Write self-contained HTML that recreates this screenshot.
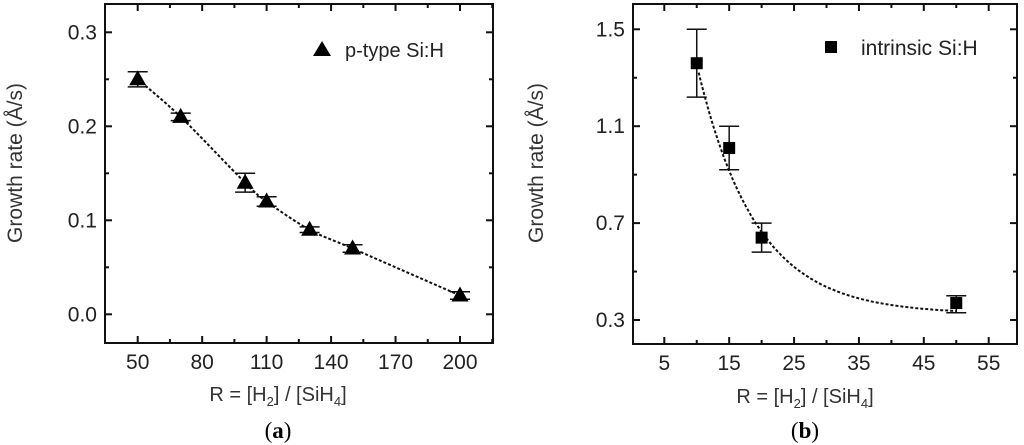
<!DOCTYPE html>
<html><head><meta charset="utf-8"><style>
html,body{margin:0;padding:0;background:#fff;}
svg{display:block;}
text{font-family:"Liberation Sans",sans-serif;fill:#222;}
</style></head><body>
<svg id="fig" width="1024" height="445" viewBox="0 0 1024 445"></svg>
<script>
// Panel (a) data
const aX = [50, 70, 100, 110, 130, 150, 200];
const aY = [0.25, 0.21, 0.14, 0.12, 0.09, 0.07, 0.02];
const aErr = [0.008, 0.004, 0.01, 0.005, 0.003, 0.004, 0.004];
const aXTicks = [50, 80, 110, 140, 170, 200];
const aYTicks = [0.0, 0.1, 0.2, 0.3];
const aYTickLabels = ["0.0", "0.1", "0.2", "0.3"];
// Panel (b) data
const bX = [10, 15, 20, 50];
const bY = [1.36, 1.01, 0.64, 0.37];
const bErrHi = [1.5, 1.1, 0.7, 0.4];
const bErrLo = [1.22, 0.92, 0.58, 0.33];
const bXTicks = [5, 15, 25, 35, 45, 55];
const bYTicks = [0.3, 0.7, 1.1, 1.5];
const bYTickLabels = ["0.3", "0.7", "1.1", "1.5"];
const bFit = [0.325, 1.03, 10, 9.0]; // offset, amplitude, x0, decay
const bFitRange = [10.3, 50];

const NS = "http://www.w3.org/2000/svg";
const svg = document.getElementById("fig");
function mk(tag, attrs, parent, txt) {
  const e = document.createElementNS(NS, tag);
  for (const k in attrs) e.setAttribute(k, attrs[k]);
  if (txt !== undefined) e.textContent = txt;
  (parent || svg).appendChild(e);
  return e;
}
function lin(d0, d1, r0, r1) { return v => r0 + (v - d0) / (d1 - d0) * (r1 - r0); }

function frame(g, L, T, R, B, xs, ys, xTicks, yTicks, yLabels, xMinorStep, yMinorStep, xMin, xMax, yMin, yMax) {
  const box = mk("rect", {x: L, y: T, width: R - L, height: B - T, fill: "none", stroke: "#111", "stroke-width": 2}, g);
  
  
  xTicks.forEach(v => {
    const px = xs(v);
    mk("line", {x1: px, y1: B, x2: px, y2: B - 7, stroke: "#111", "stroke-width": 2}, g);
    mk("line", {x1: px, y1: T, x2: px, y2: T + 7, stroke: "#111", "stroke-width": 2}, g);
    const t = mk("text", {x: px, y: B + 26, "text-anchor": "middle", style: "font-size:21px"}, g, String(v));
    
    
    const m = v + xMinorStep;
    if (m < xMax) {
      mk("line", {x1: xs(m), y1: B, x2: xs(m), y2: B - 4, stroke: "#111", "stroke-width": 2}, g);
      mk("line", {x1: xs(m), y1: T, x2: xs(m), y2: T + 4, stroke: "#111", "stroke-width": 2}, g);
    }
  });
  yTicks.forEach((v, i) => {
    const py = ys(v);
    mk("line", {x1: L, y1: py, x2: L + 7, y2: py, stroke: "#111", "stroke-width": 2}, g);
    mk("line", {x1: R, y1: py, x2: R - 7, y2: py, stroke: "#111", "stroke-width": 2}, g);
    const t = mk("text", {x: L - 8, y: py + 7, "text-anchor": "end", style: "font-size:21px"}, g, yLabels[i]);
    
    
    const m = v + yMinorStep;
    if (m < yMax) {
      mk("line", {x1: L, y1: ys(m), x2: L + 4, y2: ys(m), stroke: "#111", "stroke-width": 2}, g);
      mk("line", {x1: R, y1: ys(m), x2: R - 4, y2: ys(m), stroke: "#111", "stroke-width": 2}, g);
    }
  });
}
function titles(g, cx, ty, yx, cy, letter, ly) {
  const xt = mk("text", {x: cx, y: ty, "text-anchor": "middle", style: "font-size:20px;fill:#333"}, g);
  
  
  xt.innerHTML = 'R = [H<tspan style="font-size:13px" dy="5">2</tspan><tspan dy="-5">] / [SiH</tspan><tspan style="font-size:13px" dy="5">4</tspan><tspan dy="-5">]</tspan>';
  const yt = mk("text", {x: yx, y: cy, "text-anchor": "middle", style: "font-size:21px;fill:#333", transform: `rotate(-90 ${yx} ${cy})`}, g, "Growth rate (Å/s)");
  
  
  const lt = mk("text", {x: cx, y: ly, "text-anchor": "middle", style: "font-size:23px;font-family:'Liberation Serif',serif;fill:#000"}, g);
  
  
  lt.innerHTML = '(<tspan font-weight="bold">' + letter + '</tspan>)';
}
function smoothPath(pts) {
  let d = `M${pts[0][0]},${pts[0][1]}`;
  for (let i = 0; i < pts.length - 1; i++) {
    const p0 = pts[Math.max(0, i - 1)], p1 = pts[i], p2 = pts[i + 1], p3 = pts[Math.min(pts.length - 1, i + 2)];
    const c1 = [p1[0] + (p2[0] - p0[0]) / 6, p1[1] + (p2[1] - p0[1]) / 6];
    const c2 = [p2[0] - (p3[0] - p1[0]) / 6, p2[1] - (p3[1] - p1[1]) / 6];
    d += ` C${c1[0]},${c1[1]} ${c2[0]},${c2[1]} ${p2[0]},${p2[1]}`;
  }
  return d;
}

// ---------- Panel a ----------
const ga = mk("g", {});  
const axs = lin(50, 200, 137.7, 460), ays = lin(0, 0.3, 314.3, 32.3);
frame(ga, 105, 4, 493, 343, axs, ays, aXTicks, aYTicks, aYTickLabels, 15, 0.05, 0, 228, -0.03, 0.33);
titles(ga, 278, 401, 22, 163, "a", 438);
const aPts = aX.map((x, i) => [axs(x), ays(aY[i])]);
const aLine = mk("path", {d: smoothPath(aPts), fill: "none", stroke: "#111", "stroke-width": 2, "stroke-dasharray": "3 2"}, ga);


aX.forEach((x, i) => {
  const px = axs(x), py = ays(aY[i]);
  const hi = ays(aY[i] + aErr[i]), lo = ays(aY[i] - aErr[i]);
  const eb = mk("path", {d: `M${px},${hi}V${lo}M${px - 10},${hi}H${px + 10}M${px - 10},${lo}H${px + 10}`, stroke: "#111", "stroke-width": 1.5, fill: "none"}, ga);
  
  
  const tri = mk("polygon", {points: `${px},${py - 9} ${px - 8.5},${py + 6} ${px + 8.5},${py + 6}`, fill: "#000"}, ga);
  
  
});
const la = mk("polygon", {points: "322,41 313,56 331,56", fill: "#000"}, ga);


const lta = mk("text", {x: 345, y: 57, style: "font-size:20px"}, ga, "p-type Si:H");



// ---------- Panel b ----------
const gb = mk("g", {});  
const bxs = lin(5, 55, 664.3, 988.7), bys = lin(0.3, 1.5, 320, 29.3);
frame(gb, 633, 4, 1017, 344, bxs, bys, bXTicks, bYTicks, bYTickLabels, 5, 0.2, 0, 60, 0.2, 1.6);
titles(gb, 805, 403, 543, 163, "b", 438);
let fd = "";
for (let k = 0; k <= 120; k++) {
  const x = bFitRange[0] + (bFitRange[1] - bFitRange[0]) * k / 120;
  const y = bFit[0] + bFit[1] * Math.exp(-(x - bFit[2]) / bFit[3]);
  fd += (k ? "L" : "M") + bxs(x).toFixed(1) + "," + bys(y).toFixed(1);
}
const bLine = mk("path", {d: fd, fill: "none", stroke: "#111", "stroke-width": 2, "stroke-dasharray": "3 2"}, gb);


bX.forEach((x, i) => {
  const px = bxs(x), py = bys(bY[i]);
  const hi = bys(bErrHi[i]), lo = bys(bErrLo[i]);
  const eb = mk("path", {d: `M${px},${hi}V${lo}M${px - 10},${hi}H${px + 10}M${px - 10},${lo}H${px + 10}`, stroke: "#111", "stroke-width": 1.5, fill: "none"}, gb);
  
  
  const sq = mk("rect", {x: px - 6, y: py - 6, width: 12, height: 12, fill: "#000"}, gb);
  
  
});
const lb = mk("rect", {x: 825, y: 41, width: 12, height: 12, fill: "#000"}, gb);


const ltb = mk("text", {x: 861, y: 55, style: "font-size:21px"}, gb, "intrinsic Si:H");


</script>
</body></html>
